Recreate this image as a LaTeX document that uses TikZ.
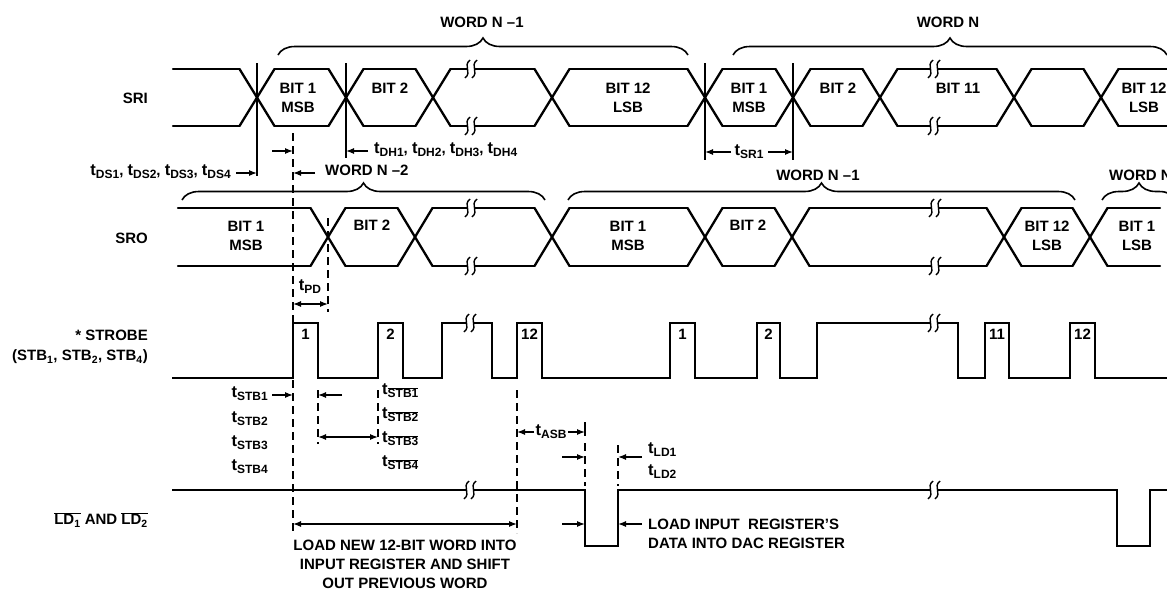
\documentclass[tikz,border=0pt]{standalone}
\usepackage{fontspec}
\setmainfont{Liberation Sans}
\usetikzlibrary{decorations.pathreplacing,arrows.meta}
\newcommand\tm[1]{{\fontsize{16.5}{18}\selectfont t}\raisebox{-0.4ex}{\fontsize{12}{13}\selectfont #1}}
\newcommand\tmb[1]{{\fontsize{16.5}{18}\selectfont t}\raisebox{-0.4ex}{\fontsize{12}{13}\selectfont$\overline{\hbox{#1}}$}}
\begin{document}
\begin{tikzpicture}[x=1pt,y=-1pt,
  sig/.style={line width=2.3pt,line cap=round,line join=round},
  dim/.style={line width=1.25pt},
  dsh/.style={line width=1.25pt,dash pattern=on 8pt off 5pt},
  arr/.style={line width=1.25pt,-{Latex[length=8pt,width=6pt]}},
  darr/.style={line width=1.25pt,{Latex[length=8pt,width=6pt]}-{Latex[length=8pt,width=6pt]}},
  brc/.style={decorate,decoration={brace,amplitude=17pt},line width=1.6pt},
  lbl/.style={font=\fontsize{15}{19}\selectfont\bfseries,inner sep=0pt,align=center},
  brk/.pic={\fill[white] (-4,-3.5) rectangle (4,3.5);
    \foreach \d in {-3.5,3.5} \draw[line width=1.4pt] (\d+2.5,-9) .. controls (\d-5,-3) and (\d+5,3) .. (\d-2.5,9);}
]
\useasboundingbox (0,0) rectangle (1167,592);

% ---------------- SRI bus
\foreach \c in {257,346,433,552,705,793,880,1014,1101}{
  \draw[sig] (\c-17.5,69) -- (\c+17.5,126);
  \draw[sig] (\c-17.5,126) -- (\c+17.5,69);}
\foreach \a/\b in {155.5/257,257/346,346/433,433/552,552/705,705/793,793/880,880/1014,1014/1101,1101/1195}{
  \draw[sig] (\a+17.5,69) -- (\b-17.5,69);
  \draw[sig] (\a+17.5,126) -- (\b-17.5,126);}
\foreach \x in {471,934}{ \pic at (\x,69) {brk}; \pic at (\x,126) {brk}; }

% ---------------- SRO bus
\foreach \c in {328,415,552,705,792,1004,1090}{
  \draw[sig] (\c-17.5,208) -- (\c+17.5,266);
  \draw[sig] (\c-17.5,266) -- (\c+17.5,208);}
\foreach \a/\b in {160.5/328,328/415,415/552,552/705,705/792,792/1004,1004/1090,1090/1177.5}{
  \draw[sig] (\a+17.5,208) -- (\b-17.5,208);
  \draw[sig] (\a+17.5,266) -- (\b-17.5,266);}
\foreach \x in {471,935}{ \pic at (\x,208) {brk}; \pic at (\x,266) {brk}; }

% ---------------- STROBE
\draw[sig,line cap=butt,line join=miter] (172,378) -- (293,378) -- (293,323) -- (318,323) -- (318,378) -- (378,378) -- (378,323) -- (403,323) -- (403,378)
 -- (442,378) -- (442,323) -- (492,323) -- (492,378) -- (517,378) -- (517,323) -- (542,323) -- (542,378)
 -- (670,378) -- (670,323) -- (695,323) -- (695,378) -- (757,378) -- (757,323) -- (780,323) -- (780,378)
 -- (817,378) -- (817,323) -- (958,323) -- (958,378) -- (985,378) -- (985,323) -- (1009,323) -- (1009,378)
 -- (1070,378) -- (1070,323) -- (1095,323) -- (1095,378) -- (1175,378);
\pic at (470,323) {brk}; \pic at (934,323) {brk};
\foreach \x/\t in {305.5/1,390.5/2,529.5/12,682.5/1,768.5/2,997/11,1082.5/12}
  \node[lbl,anchor=north] (p\x) at (\x,329) {\t};

% ---------------- LD
\draw[sig,line cap=butt,line join=miter] (172,490) -- (585,490) -- (585,546) -- (618,546) -- (618,490) -- (1117,490) -- (1117,546) -- (1150,546) -- (1150,490) -- (1175,490);
\pic at (470,490) {brk}; \pic at (934,490) {brk};

% ---------------- braces
\draw[brc] (278,55) -- (688,55);
\draw[brc] (733,55) -- (1167,55);
\draw[brc] (182,200) -- (545,200);
\draw[brc] (568,200) -- (1075,200);
\draw[brc] (1102,200) -- (1176,200);
\node[lbl] (w1) at (482,22) {WORD N \textendash1};
\node[lbl] (w2) at (948,22) {WORD N};
\node[lbl,anchor=mid west] (w3) at (325,173) {WORD N \textendash2};
\node[lbl] (w4) at (818,175) {WORD N \textendash1};
\node[lbl,anchor=west] (w5) at (1109,175) {WORD N};

% ---------------- signal names
\node[lbl,anchor=east] (nsri) at (148,98) {SRI};
\node[lbl,anchor=east] (nsro) at (148,238) {SRO};
\node[lbl,anchor=east] (nstb1) at (148,335) {* STROBE};
\node[lbl,anchor=east] (nstb2) at (148,357) {(STB\textsubscript{1}, STB\textsubscript{2}, STB\textsubscript{4})};
\node[lbl,anchor=east] (nld) at (148,520) {\mbox{$\overline{\hbox{LD\textsubscript{1}}}$} AND \mbox{$\overline{\hbox{LD\textsubscript{2}}}$}};

% ---------------- bit labels
\node[lbl] (s1) at (298,98) {BIT 1\\MSB};
\node[lbl] (s2) at (390,88) {BIT 2};
\node[lbl] (s3) at (628,98) {BIT 12\\LSB};
\node[lbl] (s4) at (749,98) {BIT 1\\MSB};
\node[lbl] (s5) at (838,88) {BIT 2};
\node[lbl] (s6) at (958,88) {BIT 11};
\node[lbl] (s7) at (1144,98) {BIT 12\\LSB};
\node[lbl] (o1) at (246,236) {BIT 1\\MSB};
\node[lbl] (o2) at (372,225) {BIT 2};
\node[lbl] (o3) at (628,236) {BIT 1\\MSB};
\node[lbl] (o4) at (748,225) {BIT 2};
\node[lbl] (o5) at (1047,236) {BIT 12\\LSB};
\node[lbl] (o6) at (1137,236) {BIT 1\\LSB};

% ---------------- timing lines
\draw[dim] (257,63) -- (257,176);
\draw[dim] (346,63) -- (346,158);
\draw[dim] (705,63) -- (705,160);
\draw[dim] (793,63) -- (793,160);
\draw[dsh] (293,133) -- (293,533);
\draw[dsh] (328,218) -- (328,312);
\draw[dsh] (318,390) -- (318,444);
\draw[dsh] (378,390) -- (378,444);
\draw[dsh] (517,390) -- (517,533);
\draw[dim] (585,422) -- (585,436);
\draw[dsh] (585,443) -- (585,486);
\draw[dsh] (618,445) -- (618,486);

% tDS
\node[lbl,anchor=mid east] (tds) at (231,173) {\tm{DS1}, \tm{DS2}, \tm{DS3}, \tm{DS4}};
\draw[arr] (236,173) -- (257,173);
\draw[arr] (272,151) -- (293,151);
\draw[arr] (315,173) -- (293,173);
% tDH
\draw[arr] (368,151) -- (346,151);
\node[lbl,anchor=mid west] (tdh) at (374,151) {\tm{DH1}, \tm{DH2}, \tm{DH3}, \tm{DH4}};
% tSR1
\node[lbl] (tsr) at (749,152) {\tm{SR1}};
\draw[arr] (731,152) -- (705,152);
\draw[arr] (768,152) -- (793,152);
% tPD
\node[lbl] (tpd) at (310,287) {\tm{PD}};
\draw[darr] (293,304) -- (328,304);
% tSTB
\foreach \y/\n in {395/1,420/2,444/3,468/4}
  \node[lbl,anchor=mid east] (ls\n) at (268,\y) {\tm{STB\n}};
\foreach \y/\n in {392/1,416/2,440/3,464/4}
  \node[lbl,anchor=mid west] (rs\n) at (382,\y) {\tmb{STB\n}};
\draw[arr] (272,395) -- (293,395);
\draw[arr] (342,395) -- (318,395);
\draw[darr] (318,437) -- (378,437);
% tASB
\node[lbl] (tasb) at (551,432) {\tm{ASB}};
\draw[arr] (534,432) -- (517,432);
\draw[arr] (568,432) -- (585,432);
% tLD
\draw[arr] (562,457) -- (585,457);
\draw[arr] (642,457) -- (618,457);
\node[lbl,anchor=mid west] (tld1) at (648,451) {\tm{LD1}};
\node[lbl,anchor=mid west] (tld2) at (648,473) {\tm{LD2}};
% load arrows
\draw[darr] (293,524) -- (517,524);
\draw[arr] (562,524) -- (585,524);
\draw[arr] (642,524) -- (618,524);
\node[lbl,anchor=north] (ln) at (405,540) {LOAD NEW 12-BIT WORD INTO\\INPUT REGISTER AND SHIFT\\OUT PREVIOUS WORD};
\node[lbl,anchor=west,align=left] (li) at (648,534) {LOAD INPUT\ \ REGISTER'S\\DATA INTO DAC REGISTER};
\end{tikzpicture}
\end{document}
